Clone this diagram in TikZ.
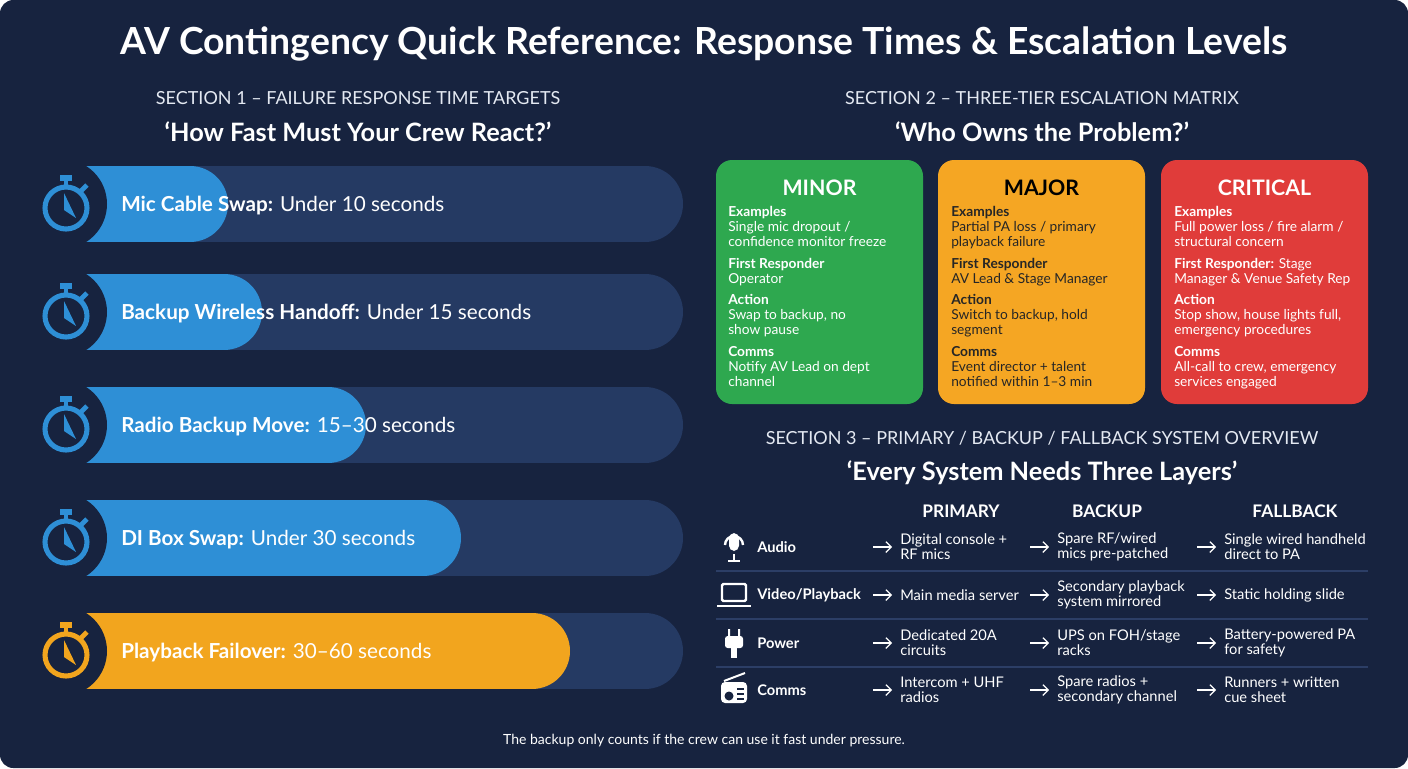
\documentclass[tikz,border=0pt]{standalone}
\usepackage{fontspec}
\usetikzlibrary{arrows.meta}
\setmainfont{Lato}
\begin{document}
\definecolor{bg}{HTML}{17233F}
\definecolor{trk}{HTML}{253A63}
\definecolor{bl}{HTML}{2E8FD6}
\definecolor{og}{HTML}{F2A51E}
\definecolor{cgreen}{HTML}{2EA84F}
\definecolor{corange}{HTML}{F5A623}
\definecolor{cred}{HTML}{E03C3A}
\definecolor{lg}{HTML}{E4E9F2}
\definecolor{sep}{HTML}{2C3E66}
\newcommand\fs[1]{\fontsize{#1}{#1}\selectfont}
\newcommand\swatch[3]{% x y color
  \begin{scope}[shift={(#1,#2)}]
  \draw[#3,line width=3.8pt] (0,0) circle (21);
  \fill[#3] (-6,-33) rectangle (6,-27);
  \fill[#3] (-2,-28) rectangle (2,-22);
  \draw[#3,line width=3.5pt] (15,-17) -- (21,-23);
  \fill[#3] (-2,-15) -- (-2,2) -- (10,10) -- cycle;
  \end{scope}}
\newcommand\barrow[5]{% y fillend color bold rest
  \draw[trk,line width=57pt,line cap=round] (78,#1) -- (645,#1);
  \draw[#3,line width=57pt,line cap=round] (78,#1) -- (#2-38,#1);
  \fill[bg] (62,#1) circle (45);
  \swatch{66}{#1+4}{#3}
  \node[anchor=west,text=white,inner sep=0] at (121,#1+2) {\fs{15.5}\textbf{#4} #5};}
\begin{tikzpicture}[x=0.75pt,y=-0.75pt,
  sec/.style={text=lg,inner sep=0},
  sub/.style={text=white,inner sep=0,font=\fs{19}\bfseries},
  ct/.style={anchor=north west,inner sep=0,align=left,font=\fontsize{10.3}{11.25}\selectfont},
  ic/.style={white,line width=1.8pt}]
\useasboundingbox (0,0) rectangle (1408,768);
\fill[bg,rounded corners=10] (0,0) rectangle (1408,768);
\node[text=white,inner sep=0] (title) at (704,44) {\fs{28}\bfseries AV Contingency Quick Reference: Response Times \& Escalation Levels};
% section 1
\node[sec] (s1) at (358,98) {\fs{13.5}SECTION 1 – FAILURE RESPONSE TIME TARGETS};
\node[sub] (s1b) at (358,132) {‘How Fast Must Your Crew React?’};
\barrow{204}{228}{bl}{Mic Cable Swap:}{Under 10 seconds}
\barrow{312}{262}{bl}{Backup Wireless Handoff:}{Under 15 seconds}
\barrow{425}{366}{bl}{Radio Backup Move:}{15–30 seconds}
\barrow{538}{461}{bl}{DI Box Swap:}{Under 30 seconds}
\barrow{651}{570}{og}{Playback Failover:}{30–60 seconds}
% section 2
\node[sec] (s2) at (1042,98) {\fs{13.5}SECTION 2 – THREE-TIER ESCALATION MATRIX};
\node[sub] (s2b) at (1042,132) {‘Who Owns the Problem?’};
\foreach \x/\c/\t/\tc in {716/cgreen/MINOR/white,938/corange/MAJOR/black,1161/cred/CRITICAL/white}{
  \fill[\c,rounded corners=12] (\x,160) rectangle (\x+207,404);
  \node[text=\tc,inner sep=0,anchor=base] at (\x+103.5,195) {\fs{16}\bfseries\t};
}
\begin{scope}[every node/.style={ct,text=white}]
\node at (728,206) {\textbf{Examples}\\Single mic dropout /\\confidence monitor freeze};
\node at (728,258) {\textbf{First Responder}\\Operator};
\node at (728,294) {\textbf{Action}\\Swap to backup, no\\show pause};
\node at (728,346) {\textbf{Comms}\\Notify AV Lead on dept\\channel};
\end{scope}
\begin{scope}[every node/.style={ct,text=black!85}]
\node at (951,206) {\textbf{Examples}\\Partial PA loss / primary\\playback failure};
\node at (951,258) {\textbf{First Responder}\\AV Lead \& Stage Manager};
\node at (951,294) {\textbf{Action}\\Switch to backup, hold\\segment};
\node at (951,346) {\textbf{Comms}\\Event director + talent\\notified within 1–3 min};
\end{scope}
\begin{scope}[every node/.style={ct,text=white}]
\node at (1174,206) {\textbf{Examples}\\Full power loss / fire alarm /\\structural concern};
\node at (1174,258) {\textbf{First Responder:} Stage\\Manager \& Venue Safety Rep};
\node at (1174,294) {\textbf{Action}\\Stop show, house lights full,\\emergency procedures};
\node at (1174,346) {\textbf{Comms}\\All-call to crew, emergency\\services engaged};
\end{scope}
% section 3
\node[sec] (s3) at (1042,438) {\fs{13.5}SECTION 3 – PRIMARY / BACKUP / FALLBACK SYSTEM OVERVIEW};
\node[sub] (s3b) at (1042,473) {‘Every System Needs Three Layers’};
\foreach \x/\t in {961/PRIMARY,1107/BACKUP,1295/FALLBACK}
  \node[text=white,inner sep=0] at (\x,511) {\fs{13}\bfseries\t};
\foreach \y in {571,619,667} \draw[sep,line width=1.2pt] (716,\y) -- (1368,\y);
\foreach \y/\n/\a/\b/\c in {547/Audio/{Digital console +\\RF mics}/{Spare RF/wired\\mics pre-patched}/{Single wired handheld\\direct to PA},
  595/Video\slash Playback/{Main media server}/{Secondary playback\\system mirrored}/{Static holding slide},
  643/Power/{Dedicated 20A\\circuits}/{UPS on FOH/stage\\racks}/{Battery-powered PA\\for safety},
  690/Comms/{Intercom + UHF\\radios}/{Spare radios +\\secondary channel}/{Runners + written\\cue sheet}}{
  \node[anchor=west,text=white,inner sep=0] at (757,\y) {\fs{11}\bfseries\n};
  \foreach \ax in {873,1030,1197} \draw[white,line width=0.9pt,-{Straight Barb[length=4pt,width=8pt]}] (\ax,\y) -- (\ax+19,\y);
  \node[anchor=west,text=white,inner sep=0,align=left,font=\fontsize{11}{11.25}\selectfont] at (900,\y) {\a};
  \node[anchor=west,text=white,inner sep=0,align=left,font=\fontsize{11}{11.25}\selectfont] at (1057,\y) {\b};
  \node[anchor=west,text=white,inner sep=0,align=left,font=\fontsize{11}{11.25}\selectfont] at (1224,\y) {\c};
}
% icons
\fill[white,rounded corners=4] (729,533) rectangle (739,551);
\draw[ic] (725,545) arc (180:360:9);
\draw[ic] (734,554) -- (734,561) (728,561) -- (740,561);
\draw[ic,rounded corners=1] (722,584) rectangle (746,601);
\draw[ic] (717,606) -- (751,606);
\fill[white] (728,629) rectangle (730,637) (738,629) rectangle (740,637);
\fill[white,rounded corners=2] (725,636) rectangle (743,648);
\fill[white] (731,647) rectangle (737,658);
\fill[white,rounded corners=3] (721,682) rectangle (747,703);
\draw[white,line width=1.5pt] (724,681) -- (745,673);
\fill[bg] (729,696) circle (4.5);
\draw[bg,line width=1.2pt] (737,689) -- (744,689) (737,694) -- (744,694) (737,699) -- (744,699);
\node[text=white,inner sep=0] (foot) at (704,741) {\fs{10.5}The backup only counts if the crew can use it fast under pressure.};
\end{tikzpicture}
\end{document}
